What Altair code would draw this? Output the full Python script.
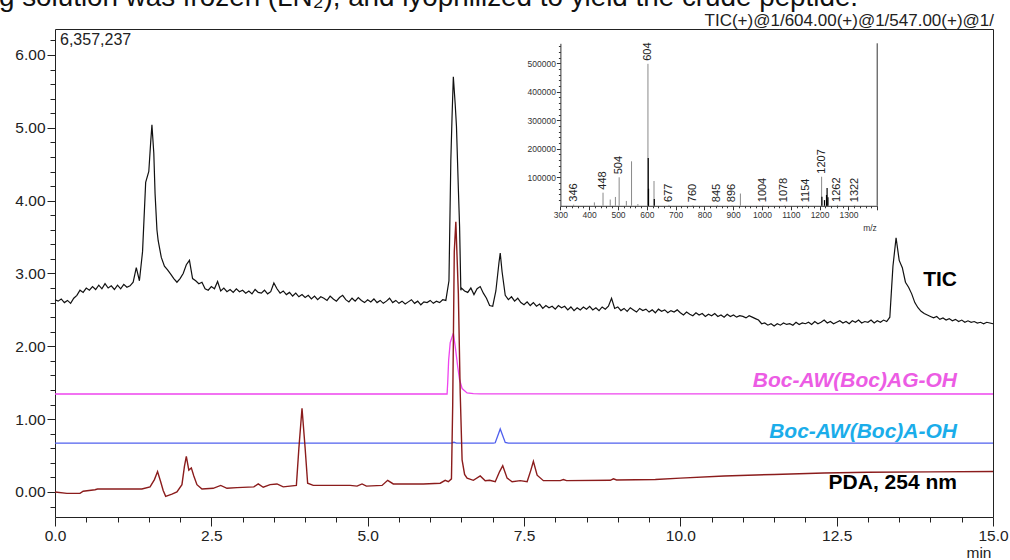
import altair as alt
import pandas as pd

# ---------------- main chromatogram (intensity, x1e6) ----------------
# TIC sampled every 0.05 min from 0.00 to 15.00
tic_values = [
    2.64, 2.62, 2.65, 2.60, 2.63, 2.59, 2.66, 2.70, 2.77, 2.74, 2.80, 2.77, 2.82, 2.78, 2.84, 2.79, 2.86, 2.80, 2.83, 2.78,
    2.84, 2.79, 2.85, 2.81, 2.83, 2.88, 3.08, 2.90, 3.30, 4.25, 4.40, 5.04, 4.10, 3.45, 3.22, 3.10, 3.05, 2.99, 2.93, 2.88,
    2.93, 3.00, 3.12, 3.18, 2.93, 2.90, 2.86, 2.88, 2.79, 2.77, 2.82, 2.79, 2.89, 2.76, 2.80, 2.75, 2.78, 2.74, 2.79, 2.75,
    2.77, 2.73, 2.76, 2.72, 2.78, 2.74, 2.73, 2.77, 2.72, 2.75, 2.87, 2.79, 2.73, 2.76, 2.71, 2.74, 2.69, 2.73, 2.68, 2.71,
    2.67, 2.70, 2.65, 2.69, 2.64, 2.68, 2.66, 2.63, 2.69, 2.65, 2.62, 2.67, 2.70, 2.64, 2.61, 2.66, 2.62, 2.67, 2.63, 2.60,
    2.64, 2.61, 2.65, 2.60, 2.63, 2.59, 2.62, 2.66, 2.60, 2.63, 2.59, 2.62, 2.58, 2.61, 2.64, 2.59, 2.62, 2.57, 2.61, 2.60,
    2.63, 2.59, 2.62, 2.60, 2.64, 2.63, 2.90, 5.17, 5.32, 4.17, 2.80, 2.76, 2.74, 2.80, 2.71, 2.79, 2.82, 2.73, 2.66, 2.56,
    2.55, 2.76, 3.15, 3.02, 2.70, 2.64, 2.68, 2.62, 2.66, 2.60, 2.57, 2.61, 2.56, 2.60, 2.55, 2.58, 2.52, 2.56, 2.53, 2.55,
    2.51, 2.56, 2.53, 2.55, 2.50, 2.54, 2.49, 2.53, 2.50, 2.54, 2.51, 2.55, 2.50, 2.53, 2.49, 2.54, 2.51, 2.55, 2.66, 2.52,
    2.54, 2.49, 2.52, 2.48, 2.53, 2.50, 2.47, 2.52, 2.49, 2.51, 2.47, 2.50, 2.46, 2.51, 2.48, 2.50, 2.46, 2.49, 2.47, 2.50,
    2.46, 2.43, 2.47, 2.44, 2.42, 2.46, 2.43, 2.45, 2.41, 2.44, 2.42, 2.45, 2.41, 2.43, 2.40, 2.44, 2.41, 2.43, 2.40, 2.42,
    2.41, 2.39, 2.42, 2.40, 2.38, 2.36, 2.31, 2.32, 2.29, 2.31, 2.28, 2.31, 2.29, 2.32, 2.30, 2.31, 2.29, 2.33, 2.30, 2.32,
    2.31, 2.33, 2.30, 2.34, 2.31, 2.33, 2.36, 2.32, 2.34, 2.31, 2.33, 2.35, 2.32, 2.34, 2.31, 2.35, 2.33, 2.36, 2.32, 2.34,
    2.33, 2.36, 2.32, 2.35, 2.33, 2.36, 2.34, 2.40, 3.10, 3.49, 3.18, 3.08, 2.88, 2.81, 2.72, 2.60, 2.53, 2.48, 2.45, 2.43,
    2.41, 2.39, 2.41, 2.37, 2.39, 2.36, 2.38, 2.35, 2.37, 2.34, 2.36, 2.33, 2.35, 2.33, 2.34, 2.32, 2.33, 2.31, 2.33, 2.32,
    2.31,
]
# extra TIC points read at peak apexes / flanks
tic_extra_time = [1.53, 1.58, 1.63, 6.33, 6.37, 6.42, 6.47, 6.49, 7.12, 13.38]
tic_extra_values = [4.80, 4.65, 3.60, 4.56, 5.70, 5.02, 3.64, 2.77, 3.28, 2.82]

pda_time = [0.00, 0.19, 0.40, 0.45, 0.64, 0.68, 1.39, 1.52, 1.59, 1.64, 1.69, 1.73, 1.77, 1.87, 1.95,
            2.03, 2.07, 2.10, 2.14, 2.18, 2.22, 2.27, 2.35, 2.53, 2.65, 2.75, 2.91, 3.18, 3.25, 3.33,
            3.44, 3.55, 3.65, 3.86, 3.90, 3.95, 4.00, 4.04, 4.13, 4.72, 4.83, 4.91, 4.98, 5.23, 5.32,
            5.41, 5.89, 6.16, 6.24, 6.29, 6.34, 6.36, 6.385, 6.41, 6.45, 6.48, 6.51, 6.55, 6.59, 6.69,
            6.80, 6.88, 6.95, 7.04, 7.11, 7.16, 7.23, 7.31, 7.44, 7.55, 7.61, 7.65, 7.71, 7.81, 8.08,
            8.13, 8.18, 8.88, 8.93, 8.98, 9.60, 10.00, 10.70, 11.50, 12.30, 13.00, 14.00, 15.00]
pda_values = [0.00, -0.02, -0.02, 0.01, 0.03, 0.04, 0.04, 0.07, 0.17, 0.28, 0.14, 0.02, -0.06, -0.03, 0.00,
              0.10, 0.35, 0.49, 0.30, 0.33, 0.22, 0.10, 0.04, 0.05, 0.09, 0.05, 0.06, 0.07, 0.11, 0.065,
              0.10, 0.11, 0.07, 0.09, 0.60, 1.15, 0.60, 0.12, 0.09, 0.09, 0.08, 0.11, 0.08, 0.09, 0.16,
              0.11, 0.11, 0.12, 0.16, 0.14, 0.18, 1.20, 3.30, 3.71, 2.73, 1.36, 0.44, 0.24, 0.19, 0.16,
              0.22, 0.155, 0.16, 0.14, 0.28, 0.36, 0.19, 0.14, 0.155, 0.14, 0.30, 0.42, 0.23, 0.155, 0.155,
              0.17, 0.155, 0.16, 0.18, 0.165, 0.17, 0.19, 0.22, 0.24, 0.26, 0.27, 0.275, 0.28]

agoh_time = [0.00, 6.27, 6.28, 6.295, 6.32, 6.37, 6.40, 6.44, 6.47, 6.51, 6.59, 6.69, 6.80, 15.00]
agoh_values = [1.345, 1.345, 1.50, 1.81, 2.05, 2.18, 2.00, 1.72, 1.54, 1.42, 1.36, 1.35, 1.347, 1.345]

aoh_time = [0.00, 6.34, 6.38, 6.42, 7.01, 7.04, 7.12, 7.20, 7.25, 15.00]
aoh_values = [0.67, 0.67, 0.682, 0.67, 0.67, 0.675, 0.865, 0.68, 0.67, 0.67]

x_ticks = [0.0, 0.5, 1.0, 1.5, 2.0, 2.5, 3.0, 3.5, 4.0, 4.5, 5.0, 5.5, 6.0, 6.5, 7.0, 7.5, 8.0, 8.5,
           9.0, 9.5, 10.0, 10.5, 11.0, 11.5, 12.0, 12.5, 13.0, 13.5, 14.0, 14.5, 15.0]
y_ticks = [-0.2, 0.0, 0.2, 0.4, 0.6, 0.8, 1.0, 1.2, 1.4, 1.6, 1.8, 2.0, 2.2, 2.4, 2.6, 2.8, 3.0, 3.2,
           3.4, 3.6, 3.8, 4.0, 4.2, 4.4, 4.6, 4.8, 5.0, 5.2, 5.4, 5.6, 5.8, 6.0, 6.2]

# ---------------- inset mass spectrum ----------------
gray_mz = [346, 418, 448, 473, 491, 504, 529, 547, 569, 604, 625, 677, 760, 845, 896, 925,
           1004, 1078, 1154, 1207, 1262, 1322]
gray_int = [4000, 12000, 46000, 22000, 31000, 100000, 17000, 156000, 6000, 498000, 87000, 3000,
            2000, 2000, 2000, 43000, 2000, 2000, 2000, 102000, 3000, 2000]
black_mz = [605, 606, 626, 1208, 1217, 1224, 1226, 1229]
black_int = [168000, 60000, 24000, 32000, 20000, 38000, 62000, 30000]
label_mz = [346, 448, 504, 604, 677, 760, 845, 896, 1004, 1078, 1154, 1207, 1262, 1322]
label_int = [4000, 46000, 100000, 498000, 3000, 2000, 2000, 2000, 2000, 2000, 2000, 102000, 3000, 2000]
inset_x_ticks = list(range(300, 1401, 20))
inset_y_ticks = list(range(20000, 560001, 20000))

FONT = "Liberation Sans"

# ---------------- build frames ----------------
tic_time = [round(i * 0.05, 2) for i in range(len(tic_values))] + tic_extra_time
tic_df = pd.DataFrame({"t": tic_time, "v": tic_values + tic_extra_values}).sort_values("t")
pda_df = pd.DataFrame({"t": pda_time, "v": pda_values})
agoh_df = pd.DataFrame({"t": agoh_time, "v": agoh_values})
aoh_df = pd.DataFrame({"t": aoh_time, "v": aoh_values})

x_axis = alt.Axis(values=x_ticks,
                  labelExpr="datum.value % 2.5 === 0 ? format(datum.value, '.1f') : ''",
                  tickSize={"condition": {"test": "datum.value % 2.5 === 0", "value": 9}, "value": 5},
                  labelFontSize=15.5, labelFont=FONT, labelColor="#222", tickColor="#222",
                  domain=False, grid=False, labelFlush=False, labelOverlap=False,
                  labelPadding=2, title=None)
y_axis = alt.Axis(values=y_ticks,
                  labelExpr="abs(datum.value - round(datum.value)) < 0.001 ? format(datum.value, '.2f') : ''",
                  tickSize={"condition": {"test": "abs(datum.value - round(datum.value)) < 0.001", "value": 8},
                            "value": 5},
                  labelFontSize=15.5, labelFont=FONT, labelColor="#222", tickColor="#222",
                  domain=False, grid=False, labelOverlap=False, labelPadding=2, title=None)

X = alt.X("t:Q", scale=alt.Scale(domain=[0, 15], nice=False, zero=False), axis=x_axis)
Y = alt.Y("v:Q", scale=alt.Scale(domain=[-0.344, 6.357], nice=False, zero=False), axis=y_axis)

tic_line = alt.Chart(tic_df).mark_line(color="#111", strokeWidth=1.2).encode(x=X, y=Y)
agoh_line = alt.Chart(agoh_df).mark_line(color="#ee44ee", strokeWidth=1.3).encode(x=X, y=Y)
aoh_line = alt.Chart(aoh_df).mark_line(color="#5060ee", strokeWidth=1.3).encode(x=X, y=Y)
pda_line = alt.Chart(pda_df).mark_line(color="#8b1c1c", strokeWidth=1.4).encode(x=X, y=Y)


def label(text, x, y, size, color="#000", weight="normal", style="normal", align="left",
          baseline="middle"):
    return alt.Chart(pd.DataFrame({"s": [text]})).mark_text(
        font=FONT, fontSize=size, color=color, fontWeight=weight, fontStyle=style,
        align=align, baseline=baseline
    ).encode(text="s:N", x=alt.value(x), y=alt.value(y))


texts = [
    label("TIC", 902, 251, 21, weight="bold", align="right"),
    label("Boc-AW(Boc)AG-OH", 902, 352, 21, color="#ec5ce4", weight="bold", style="italic", align="right"),
    label("Boc-AW(Boc)A-OH", 902, 403, 21, color="#1badea", weight="bold", style="italic", align="right"),
    label("PDA, 254 nm", 902, 454, 21, weight="bold", align="right"),
    label("6,357,237", 5, 11, 16, color="#222"),
    label("TIC(+)@1/604.00(+)@1/547.00(+)@1/", 939, -8.5, 17, color="#222", align="right"),
    label("g solution was frozen (LN\u2082), and lyophilized to yield the crude peptide.", -56, -23.5, 27.8,
          color="#111", baseline="alphabetic"),
    label("min", 924, 524, 15.5, color="#222", align="center"),
]

main = alt.layer(tic_line, agoh_line, aoh_line, pda_line, *texts)

# ---------------- inset ----------------
INX = alt.Scale(domain=[300, 1400], range=[505.4, 822.2], nice=False, zero=False)
INY = alt.Scale(domain=[0, 570000], range=[176.8, 14.3], nice=False, zero=False)

inset_x_axis = alt.Axis(orient="bottom", offset=-311.2, values=inset_x_ticks,
                        labelExpr="datum.value % 100 === 0 && datum.value < 1400 ? format(datum.value, 'd') : ''",
                        tickSize={"condition": {"test": "datum.value % 100 === 0", "value": 4}, "value": 2},
                        labelFontSize=8.5, labelFont=FONT, labelColor="#333", tickColor="#333",
                        domainColor="#333", labelPadding=1, grid=False, title=None,
                        labelOverlap=False, labelFlush=False)
inset_y_axis = alt.Axis(orient="left", offset=-505.4, values=inset_y_ticks,
                        labelExpr="datum.value % 100000 === 0 ? format(datum.value, 'd') : ''",
                        tickSize={"condition": {"test": "datum.value % 100000 === 0", "value": 4}, "value": 2},
                        labelFontSize=8.5, labelFont=FONT, labelColor="#333", tickColor="#333",
                        domainColor="#333", labelPadding=1, grid=False, title=None,
                        labelOverlap=False)

IX = alt.X("mz:Q", scale=INX, axis=inset_x_axis)
IY = alt.Y("inten:Q", scale=INY, axis=inset_y_axis)

gray_df = pd.DataFrame({"mz": gray_mz, "inten": gray_int})
black_df = pd.DataFrame({"mz": black_mz, "inten": black_int})
lab_df = pd.DataFrame({"mz": label_mz, "inten": label_int, "lab": [str(m) for m in label_mz]})

gray_sticks = alt.Chart(gray_df).mark_rule(color="#8a8a8a", strokeWidth=1).encode(
    x=IX, y=IY, y2=alt.Y2Datum(0))
black_sticks = alt.Chart(black_df).mark_rule(color="#000", strokeWidth=1.2).encode(
    x=IX, y=IY, y2=alt.Y2Datum(0))
peak_labels = alt.Chart(lab_df).mark_text(
    angle=270, align="left", baseline="middle", dx=3, font=FONT, fontSize=11, color="#222"
).encode(x=IX, y=IY, text="lab:N")
right_border = alt.Chart(pd.DataFrame({"a": [0]})).mark_rule(color="#333", strokeWidth=1).encode(
    x=alt.XDatum(1400, scale=INX, axis=inset_x_axis),
    y=alt.YDatum(0, scale=INY, axis=inset_y_axis),
    y2=alt.Y2Datum(570000))
mz_text = label("m/z", 815, 199, 8.5, color="#333", align="center")

inset = alt.layer(gray_sticks, black_sticks, peak_labels, right_border, mz_text)

chart = alt.layer(main, inset).resolve_scale(x="independent", y="independent").properties(
    width=938, height=488,
    padding={"left": 55, "top": 29, "right": 17, "bottom": 43},
    autosize=alt.AutoSizeParams(type="none"),
).configure(font=FONT).configure_view(stroke="#222", strokeWidth=1)

chart.save("out.html", embed_options={"renderer": "svg", "actions": False})
